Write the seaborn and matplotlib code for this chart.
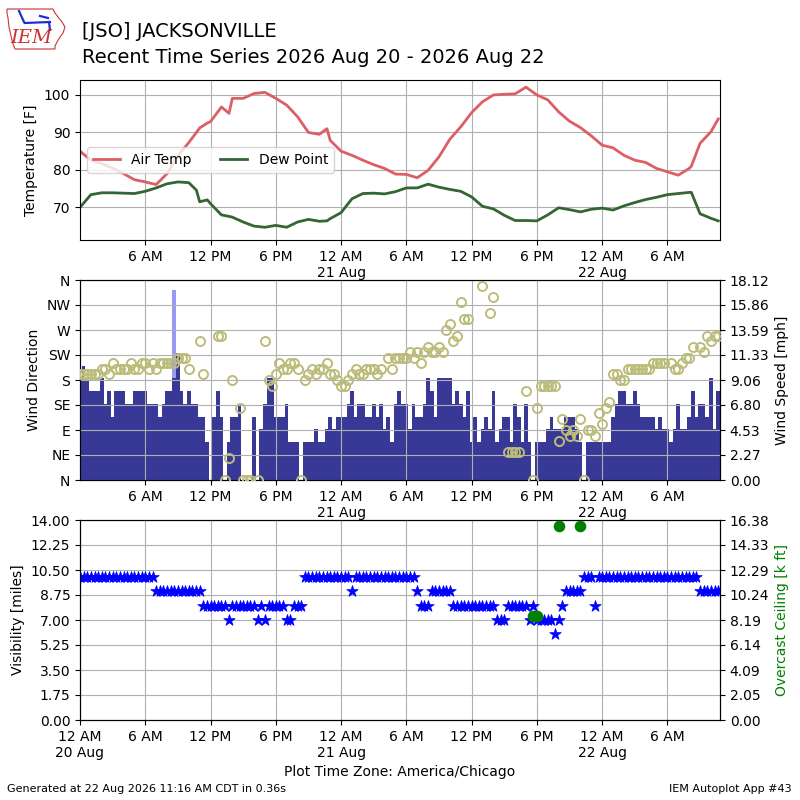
import matplotlib
matplotlib.use("Agg")
import matplotlib.pyplot as plt
from matplotlib.patches import Polygon
from matplotlib.lines import Line2D
import numpy as np
import pandas as pd
import seaborn as sns

nan = np.nan

# ---------------- data ----------------
start_time = "2026-08-20 00:00"
end_time = "2026-08-22 10:50"

# temperatures (hours after start)
temp_hours = [0, 1, 2, 3, 4, 5, 6, 7, 8, 9, 10, 10.7, 11, 11.7, 12, 13, 13.7,
              14, 15, 16, 17, 18, 19, 20, 21, 22, 22.7, 23, 24, 25, 26, 27,
              28, 29, 30, 31, 32, 33, 34, 35, 36, 37, 38, 39, 40, 41, 42, 43,
              44, 45, 46, 47, 48, 49, 50, 51, 52, 53, 54, 55, 56, 56.2, 57,
              58, 58.67]
air_temp = [85.0, 82.6, 81.7, 80.5, 79.0, 77.4, 76.8, 76.1, 79.0, 83.8,
            87.3, 90.0, 91.2, 92.5, 92.9, 96.8, 95.1,
            99.1, 99.1, 100.4, 100.7, 99.1, 97.3, 94.2, 90.0, 89.5, 91.0,
            87.9, 85.0, 83.9, 82.6, 81.4,
            80.4, 78.9, 78.8, 77.9, 79.9, 83.5, 88.2, 91.5, 95.3, 98.2,
            100.0, 100.2, 100.3, 102.1, 100.0, 98.7,
            95.5, 93.0, 91.3, 89.1, 86.6, 85.9, 83.9, 82.6, 82.0, 80.4,
            79.5, 78.6, 80.4, 81.0, 87.1, 90.2, 93.6]
dew_point = [70.0, 73.4, 73.9, 73.9, 73.8, 73.7, 74.3, 75.2, 76.3, 76.8,
             76.6, 74.6, 71.5, 72.0, 71.0, 68.0, 67.6,
             67.4, 66.1, 65.0, 64.7, 65.2, 64.7, 66.1, 66.8, 66.3, 66.4,
             67.0, 68.6, 72.3, 73.7, 73.8,
             73.6, 74.2, 75.2, 75.2, 76.2, 75.4, 74.8, 74.3, 72.8, 70.3,
             69.6, 67.9, 66.5, 66.5, 66.4, 68.0,
             69.9, 69.4, 68.8, 69.5, 69.8, 69.3, 70.4, 71.3, 72.1, 72.7,
             73.4, 73.7, 74.0, 74.0, 68.3, 67.1, 66.4]

# 20-minute observations (3 per hour, one group per hour)
obs_step_minutes = 20
wind_speed_kt = [
    8, 9, 8,   7, 7, 7,   8, 6, 7,   5, 7, 7,   7, 6, 6,   7, 7, 7,
    7, 6, 6,   6, 5, 6,   7, 7, 8,   10, 7, 6,  7, 6, 6,   5, 5, 3,
    0, 5, 7,   5, 0, 3,   5, 5, 6,   0, 0, 0,   5, 0, 4,   6, 8, 8,
    5, 5, 5,   6, 3, 3,   3, 0, 3,   3, 3, 4,   3, 3, 4,   5, 4, 5,
    5, 5, 6,   7, 5, 6,   6, 5, 5,   6, 5, 6,   4, 5, 3,   6, 7, 6,
    6, 4, 6,   5, 5, 6,   8, 7, 5,   8, 8, 8,   8, 6, 7,   6, 5, 7,
    3, 5, 3,   4, 5, 4,   7, 3, 4,   5, 5, 3,   6, 5, 3,   6, 3, 0,
    3, 3, 3,   4, 5, 4,   4, 4, 5,   5, 5, 4,   3, 0, 3,   3, 3, 3,
    3, 3, 3,   5, 6, 7,   7, 6, 6,   7, 6, 5,   5, 5, 5,   4, 5, 4,
    4, 3, 4,   6, 4, 4,   5, 7, 5,   6, 6, 5,   8, 4, 7]
wind_dir = [
    190, 190, 190,  190, 190, 190,  200, 200, 190,  210, 200, 200,
    200, 200, 210,  200, 200, 210,  210, 200, 210,  200, 210, 210,
    210, 210, 210,  220, 220, 220,  200, nan, nan,  250, 190, nan,
    nan, nan, 260,  260, 0, 40,     180, nan, 130,  0, 0, 0,
    nan, 0, nan,    250, 180, 170,  190, 210, 200,  200, 210, 210,
    200, 0, 180,    190, 200, 190,  200, 200, 210,  190, 190, 180,
    170, 170, 180,  190, 200, 190,  190, 200, 200,  200, 190, 200,
    nan, 220, 200,  220, 220, 220,  220, 230, 220,  230, 210, 230,
    240, 230, 230,  240, 230, 270,  280, 250, 260,  320, 290, 290,
    nan, nan, nan,  350, nan, 300,  330, nan, nan,  nan, 50, 50,
    50, 50, nan,    160, nan, 0,    130, 170, 170,  170, 170, 170,
    70, 110, 90,    80, 90, 80,     110, 0, 90,     90, 80, 120,
    100, 130, 140,  190, 190, 180,  180, 200, 200,  200, 200, 200,
    200, 200, 210,  210, 210, 210,  nan, 210, 200,  200, 210, 220,
    220, 240, nan,  240, 230, 260,  250, 260, 260]
visibility = [
    10, 10, 10,  10, 10, 10,  10, 10, 10,  10, 10, 10,  10, 10, 10,
    10, 10, 10,  10, 10, 10,  9, 9, 9,     9, 9, 9,     9, 9, 9,
    9, 9, 9,     9, 8, 8,     8, 8, 8,     8, 8, 7,     8, 8, 8,
    8, 8, 8,     8, 7, 8,     7, 8, 8,     8, 8, 8,     7, 7, 8,
    8, 8, 10,    10, 10, 10,  10, 10, 10,  10, 10, 10,  10, 10, 10,
    9, 10, 10,   10, 10, 10,  10, 10, 10,  10, 10, 10,  10, 10, 10,
    10, 10, 10,  9, 8, 8,     8, 9, 9,     9, 9, 9,     9, 8, 8,
    8, 8, 8,     8, 8, 8,     8, 8, 8,     8, 7, 7,     7, 8, 8,
    8, 8, 8,     8, 7, 8,     7, 7, 7,     7, 7, 6,     7, 8, 9,
    9, 9, 9,     9, 10, 10,   10, 8, 10,   10, 10, 10,  10, 10, 10,
    10, 10, 10,  10, 10, 10,  10, 10, 10,  10, 10, 10,  10, 10, 10,
    10, 10, 10,  10, 10, 10,  9, 9, 9,     9, 9, 9]
gust_time = ["2026-08-20 08:40"]
gust_kt = [15]
ceiling_time = ["2026-08-21 17:40", "2026-08-21 18:00",
                "2026-08-21 20:00", "2026-08-21 22:00"]
ceiling_kft = [8.5, 8.5, 15.9, 15.9]

dir_labels = ["N", "NE", "E", "SE", "S", "SW", "W", "NW", "N"]

# ---------------- derived ----------------
KT2MPH = 1.150779
t0 = pd.Timestamp(start_time)
t1 = pd.Timestamp(end_time)
temp_times = [t0 + pd.Timedelta(hours=h) for h in temp_hours]
obs_times = [t0 + pd.Timedelta(minutes=obs_step_minutes * i)
             for i in range(len(wind_speed_kt))]
speed_mph = np.array(wind_speed_kt) * KT2MPH
gust_mph = np.array(gust_kt) * KT2MPH
gust_times = pd.to_datetime(gust_time)
ceil_times = pd.to_datetime(ceiling_time)
df_t = pd.DataFrame({"time": temp_times, "air": air_temp, "dew": dew_point})

# ---------------- figure ----------------
fig = plt.figure(figsize=(8, 8), dpi=100)
ax1 = fig.add_axes([0.1, 0.7, 0.8, 0.2])
ax2 = fig.add_axes([0.1, 0.4, 0.8, 0.25])
ax3 = fig.add_axes([0.1, 0.1, 0.8, 0.25])


def time_axis(ax, first=False):
    ticks = [t0 + pd.Timedelta(hours=6 * k) for k in range(10)]
    if not first:
        ticks = ticks[1:]
    labels = []
    for t in ticks:
        lab = t.strftime("%I %p").lstrip("0")
        if t.hour == 0:
            lab += "\n" + t.strftime("%d %b")
        labels.append(lab)
    ax.set_xticks(ticks)
    ax.set_xticklabels(labels)
    ax.set_xlim(t0, t1)
    ax.grid(True, color="#b0b0b0", lw=0.8)


# --- temperature panel
sns.lineplot(data=df_t, x="time", y="air", ax=ax1, color="#dc5f66",
             lw=2, label="Air Temp")
sns.lineplot(data=df_t, x="time", y="dew", ax=ax1, color="#336633",
             lw=2, label="Dew Point")
ax1.set_ylim(61.3, 104.0)
ax1.set_yticks([70, 80, 90, 100])
ax1.set_ylabel("Temperature [F]")
ax1.set_xlabel("")
time_axis(ax1)
ax1.legend(loc="center left", ncol=2)

# --- wind panel
ax2b = ax2.twinx()
ax2b.bar(gust_times, gust_mph, width=obs_step_minutes / 1440.0,
         color="#9a9af2", zorder=1)
ax2b.bar(obs_times, speed_mph, width=obs_step_minutes / 1440.0,
         color="#383896", zorder=2)
spd_top = gust_mph.max() * 1.05
ax2b.set_ylim(0, spd_top)
ax2b.set_yticks(np.linspace(0, spd_top, 9))
ax2b.set_yticklabels(["%.2f" % v for v in np.linspace(0, spd_top, 9)])
ax2b.set_ylabel("Wind Speed [mph]")
ax2.set_zorder(ax2b.get_zorder() + 1)
ax2.patch.set_visible(False)
ax2.plot(obs_times, wind_dir, "o", mfc="none", mec="#bcbc7a", mew=1.4,
         ms=6.5, zorder=5)
ax2.set_ylim(0, 360)
ax2.set_yticks(np.arange(0, 361, 45))
ax2.set_yticklabels(dir_labels)
ax2.set_ylabel("Wind Direction")
time_axis(ax2)
ax2b.set_xlim(t0, t1)

# --- visibility / ceiling panel
sns.scatterplot(x=obs_times, y=visibility, ax=ax3, marker="*", s=75,
                color="blue", edgecolor="blue", linewidth=0.5, zorder=3)
ax3.set_ylim(0, 14)
ax3.set_yticks(np.arange(0, 14.01, 1.75))
ax3.set_yticklabels(["%.2f" % v for v in np.arange(0, 14.01, 1.75)])
ax3.set_ylabel("Visibility [miles]")
time_axis(ax3, first=True)
ax3.set_xlabel("Plot Time Zone: America/Chicago")
ax3b = ax3.twinx()
sns.scatterplot(x=ceil_times, y=ceiling_kft, ax=ax3b, color="#008000",
                s=70, linewidth=0, zorder=4)
ax3b.set_ylim(0, 16.38)
ax3b.set_yticks(np.linspace(0, 16.38, 9))
ax3b.set_yticklabels(["%.2f" % v for v in np.linspace(0, 16.38, 9)])
ax3b.set_ylabel("Overcast Ceiling [k ft]", color="#008000")
ax3b.set_xlim(t0, t1)

# --- titles and footer
fig.text(0.1025, 0.954, "[JSO] JACKSONVILLE", fontsize=14, va="baseline")
fig.text(0.1025, 0.921, "Recent Time Series 2026 Aug 20 - 2026 Aug 22",
         fontsize=14, va="baseline")
fig.text(0.009, 0.0137, "Generated at 22 Aug 2026 11:16 AM CDT in 0.36s",
         fontsize=8, va="center")
fig.text(0.99, 0.0137, "IEM Autoplot App #43", fontsize=8, va="center",
         ha="right")


# --- logo
def px(x, y):
    return (x / 800.0, 1 - y / 800.0)


iowa = [(7, 9), (53, 9), (55, 13), (58, 17), (62, 22), (65, 27), (63, 33),
        (60, 37), (57, 42), (55, 46), (55, 49), (15, 49), (13, 44), (11, 36),
        (9, 27), (8, 18), (7, 13)]
fig.patches.append(Polygon([px(*p) for p in iowa], closed=True, fill=False,
                           ec="#d03030", lw=0.8, transform=fig.transFigure))
for seg in [((19, 11), (24, 22)), ((25, 23), (50, 22)), ((40, 16), (48, 18)),
            ((49, 22), (50, 30))]:
    (xa, ya), (xb, yb) = seg
    pa, pb = px(xa, ya), px(xb, yb)
    fig.lines.append(Line2D([pa[0], pb[0]], [pa[1], pb[1]], color="#2030d0",
                            lw=1.6, transform=fig.transFigure))
fig.text(px(31, 38)[0], px(31, 38)[1], "IEM", fontsize=14, color="#d03030",
         family="DejaVu Serif", style="italic", ha="center", va="center")

fig.savefig("out.png", dpi=100)
